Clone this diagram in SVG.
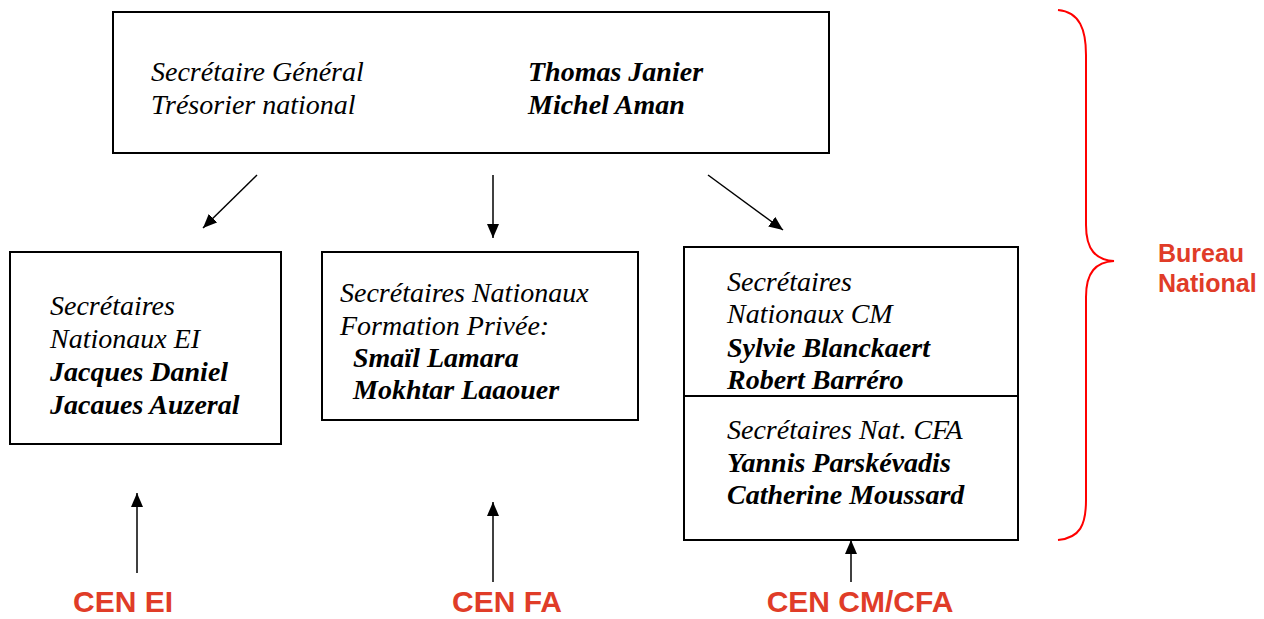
<svg xmlns="http://www.w3.org/2000/svg" width="1264" height="619" viewBox="0 0 1264 619">
<defs>
<marker id="ah" viewBox="0 0 14 12" refX="14" refY="6" markerWidth="14" markerHeight="12" markerUnits="userSpaceOnUse" orient="auto">
<path d="M0,0 L14,6 L0,12 z" fill="#000"/>
</marker>
<style>
.box{fill:#fff;stroke:#000;stroke-width:2}
.it{font-family:"Liberation Serif","Times New Roman",serif;font-style:italic;font-size:28px;fill:#000}
.bi{font-family:"Liberation Serif","Times New Roman",serif;font-style:italic;font-weight:bold;font-size:28px;fill:#000}
.red{font-family:"Liberation Sans",Arial,sans-serif;font-weight:bold;fill:#e03c28}
.conn{stroke:#000;stroke-width:1.5;fill:none;marker-end:url(#ah)}
</style>
</defs>
<rect width="1264" height="619" fill="#fff"/>
<g id="top">
<rect class="box" x="113" y="12" width="716" height="141"/>
<text class="it" x="151" y="81">Secrétaire Général</text>
<text class="it" x="151" y="114">Trésorier national</text>
<text class="bi" x="528" y="81">Thomas Janier</text>
<text class="bi" x="528" y="114">Michel Aman</text>
</g>
<g id="ei">
<rect class="box" x="10" y="252" width="271" height="192"/>
<text class="it" x="50" y="315">Secrétaires</text>
<text class="it" x="50" y="348">Nationaux EI</text>
<text class="bi" x="50" y="381">Jacques Daniel</text>
<text class="bi" x="50" y="414">Jacaues Auzeral</text>
</g>
<g id="fa">
<rect class="box" x="322" y="252" width="316" height="168"/>
<text class="it" x="340" y="302">Secrétaires Nationaux</text>
<text class="it" x="340" y="335">Formation Privée:</text>
<text class="bi" x="353" y="367">Smaïl Lamara</text>
<text class="bi" x="353" y="399">Mokhtar Laaouer</text>
</g>
<g id="cm">
<rect class="box" x="684" y="247" width="334" height="293"/>
<line x1="684" y1="396" x2="1018" y2="396" stroke="#000" stroke-width="2"/>
<text class="it" x="727" y="291">Secrétaires</text>
<text class="it" x="727" y="323">Nationaux CM</text>
<text class="bi" x="727" y="357">Sylvie Blanckaert</text>
<text class="bi" x="727" y="389">Robert Barréro</text>
<text class="it" x="727" y="439">Secrétaires Nat. CFA</text>
<text class="bi" x="727" y="472">Yannis Parskévadis</text>
<text class="bi" x="727" y="504">Catherine Moussard</text>
</g>
<g id="connectors">
<line class="conn" x1="257" y1="175" x2="203" y2="228"/>
<line class="conn" x1="493" y1="175" x2="493" y2="238"/>
<line class="conn" x1="708" y1="175" x2="783" y2="230"/>
<line class="conn" x1="137" y1="573" x2="137" y2="493"/>
<line class="conn" x1="493" y1="582" x2="493" y2="502"/>
<line class="conn" x1="851" y1="582" x2="851" y2="540"/>
</g>
<g id="labels">
<text class="red" x="123" y="612" font-size="30" text-anchor="middle">CEN EI</text>
<text class="red" x="507" y="612" font-size="30" text-anchor="middle">CEN FA</text>
<text class="red" x="860" y="612" font-size="30" text-anchor="middle">CEN CM/CFA</text>
</g>
<g id="brace">
<path d="M1058,10 C1080,12 1086,30 1086,55 L1086,225 C1086,250 1096,260 1114,261 C1096,262 1086,272 1086,297 L1086,500 C1086,525 1080,538 1058,540" fill="none" stroke="#f00" stroke-width="2"/>
<text class="red" x="1158" y="262" font-size="25">Bureau</text>
<text class="red" x="1158" y="292" font-size="25">National</text>
</g>
</svg>
